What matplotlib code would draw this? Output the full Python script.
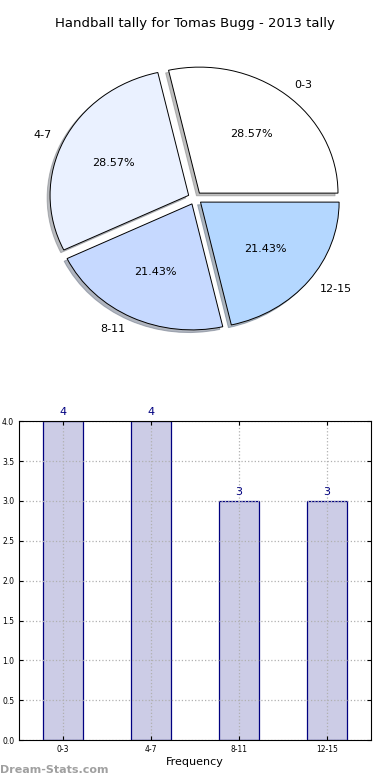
import numpy as np
import matplotlib
matplotlib.use("Agg")
import matplotlib.pyplot as plt

# data
categories = ["0-3", "4-7", "8-11", "12-15"]
counts = [4, 4, 3, 3]
pie_colors = ["#ffffff", "#eaf1ff", "#c6d9ff", "#b4d7ff"]

fig = plt.figure(figsize=(3.9, 7.8), dpi=100)

# pie chart
ax1 = fig.add_axes([0.049, 0.541, 0.902, 0.41])
ax1.pie(counts, labels=categories, colors=pie_colors, autopct="%.2f%%",
        explode=[0.05] * len(counts), startangle=0, radius=0.985,
        shadow={"ox": -0.015, "oy": -0.015, "shade": 0.5},
        pctdistance=0.6, labeldistance=1.1,
        wedgeprops=dict(edgecolor="black", linewidth=0.7),
        textprops=dict(fontsize=8))
ax1.set_aspect("auto")
ax1.set_xlim(-1.25, 1.25)
ax1.set_ylim(-1.25, 1.25)
ax1.set_title("Handball tally for Tomas Bugg - 2013 tally", fontsize=9.5, pad=8)

# bar chart
ax2 = fig.add_axes([0.049, 0.051, 0.902, 0.409])
x = np.arange(len(categories))
bars = ax2.bar(x, counts, width=0.45, color="#ccccE6", edgecolor="#000080",
               linewidth=0.9, zorder=1)
for xi, c in zip(x, counts):
    ax2.text(xi, c + 0.05, str(c), ha="center", va="bottom", color="#000080", fontsize=8)
ax2.set_xlim(-0.5, 3.5)
ax2.set_ylim(0, 4.0)
ax2.set_yticks(np.arange(0, 4.01, 0.5))
ax2.set_yticklabels(["%.1f" % v for v in np.arange(0, 4.01, 0.5)])
ax2.set_xticks(x)
ax2.set_xticklabels(categories)
ax2.tick_params(direction="in", labelsize=5.5, length=3, top=True, right=True,
                labeltop=False, labelright=False)
ax2.grid(True, linestyle=":", color="#b0b0b0", linewidth=0.9, zorder=2)
ax2.set_axisbelow(False)
for sp in ax2.spines.values():
    sp.set_zorder(5)
ax2.set_xlabel("Frequency", fontsize=8, labelpad=2)

fig.text(0.0, 0.006, "Dream-Stats.com", color="#a0a0a0", fontsize=8,
         fontweight="bold", ha="left", va="bottom")

plt.savefig("out.png", dpi=100)
